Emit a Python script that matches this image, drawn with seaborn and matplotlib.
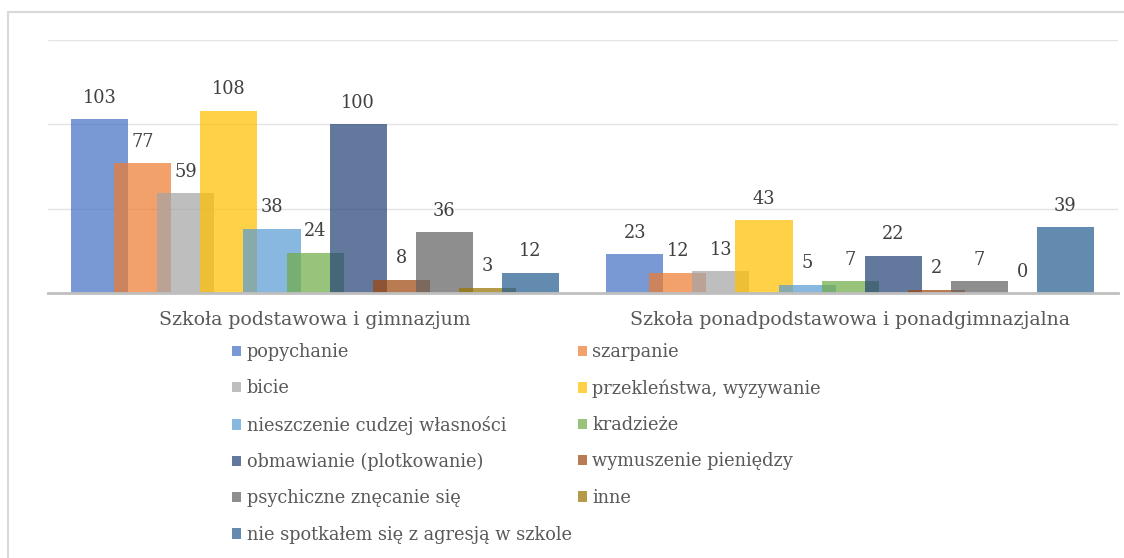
import matplotlib
matplotlib.use("Agg")
import matplotlib.pyplot as plt
from matplotlib.patches import Patch, Rectangle
import pandas as pd
import seaborn as sns

# Dane z wykresu
kategorie = ["Szkoła podstawowa i gimnazjum",
             "Szkoła ponadpodstawowa i ponadgimnazjalna"]
serie = ["popychanie", "szarpanie", "bicie", "przekleństwa, wyzywanie",
         "nieszczenie cudzej własności", "kradzieże",
         "obmawianie (plotkowanie)", "wymuszenie pieniędzy",
         "psychiczne znęcanie się", "inne",
         "nie spotkałem się z agresją w szkole"]
podstawowa = [103, 77, 59, 108, 38, 24, 100, 8, 36, 3, 12]
ponadpodstawowa = [23, 12, 13, 43, 5, 7, 22, 2, 7, 0, 39]
kolory = ["#4472C4", "#ED7D31", "#A5A5A5", "#FFC000", "#5B9BD5", "#70AD47",
          "#264478", "#9E480E", "#636363", "#997300", "#255E91"]

df = pd.DataFrame({
    "kategoria": [kategorie[0]] * len(serie) + [kategorie[1]] * len(serie),
    "seria": serie + serie,
    "wartosc": podstawowa + ponadpodstawowa,
})

sns.set_theme(style="white")
plt.rcParams["font.family"] = ["DejaVu Serif"]

fig = plt.figure(figsize=(11.24, 5.58), dpi=100)
ax = fig.add_axes([0.0423, 0.4749, 0.952, 0.4534])

sns.barplot(data=df, x="kategoria", y="wartosc", hue="seria",
            hue_order=serie, palette=kolory, order=kategorie,
            width=0.885, dodge=True, alpha=0.72, legend=False, ax=ax,
            saturation=1, errorbar=None)

# Słupki nachodzą na siebie (jak w Excelu)
for cont in ax.containers:
    for p in cont.patches:
        c = p.get_x() + p.get_width() / 2
        p.set_width(0.1066)
        p.set_x(c - 0.1066 / 2)
        p.set_linewidth(0)
    ax.bar_label(cont, fmt="%d", padding=9, fontsize=12.8, color="#404040")

ax.set_xlim(-0.5, 1.5)
ax.set_ylim(0, 150)
ax.set_yticks([0, 50, 100, 150])
ax.yaxis.grid(True, color="#e4e4e4", linewidth=1)
ax.set_axisbelow(True)
ax.tick_params(axis="y", left=False, labelleft=False)
ax.tick_params(axis="x", bottom=False, labelsize=13.6, colors="#595959", pad=7)
ax.set_xlabel("")
ax.set_ylabel("")
for s in ["top", "right", "left"]:
    ax.spines[s].set_visible(False)
ax.spines["bottom"].set_color("#bfbfbf")
ax.spines["bottom"].set_linewidth(2)

# Legenda w dwóch kolumnach, kolejność wierszami
uchwyty = [Patch(facecolor=k, alpha=0.72, linewidth=0) for k in kolory]
kolejnosc = [0, 2, 4, 6, 8, 10, 1, 3, 5, 7, 9]
fig.legend([uchwyty[i] for i in kolejnosc], [serie[i] for i in kolejnosc],
           ncol=2, loc="upper left", bbox_to_anchor=(232 / 1124, 1 - 343 / 558),
           frameon=False, fontsize=12.8, labelcolor="#595959",
           handlelength=0.52, handleheight=0.52, handletextpad=0.3,
           labelspacing=1.03, columnspacing=0.35, borderpad=0, borderaxespad=0)

# Ramka wykresu
fig.patches.append(Rectangle((8 / 1124, -0.05), 1.1, 1 - 12 / 558 + 0.05,
                             transform=fig.transFigure, fill=False,
                             edgecolor="#d9d9d9", linewidth=1.5))

fig.savefig("out.png", dpi=100)
